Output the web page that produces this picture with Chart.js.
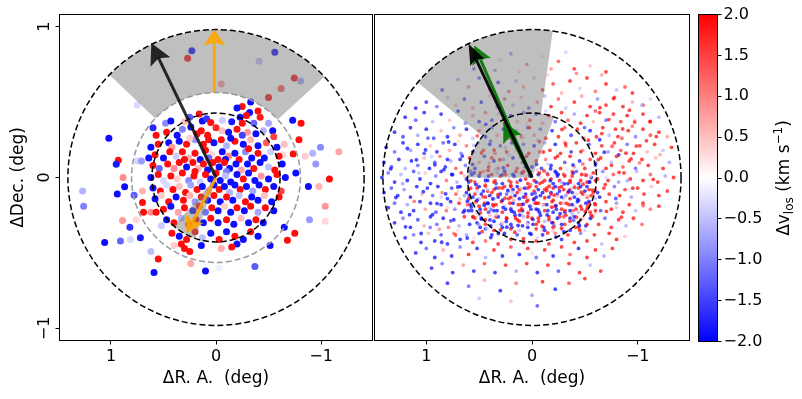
<!DOCTYPE html>
<html>
<head>
<meta charset="utf-8">
<script src="https://cdn.jsdelivr.net/npm/chart.js@4"></script>
<style>
  body { margin: 0; background: #fff; }
  #wrap { position: relative; width: 802px; height: 399px; }
  canvas { position: absolute; top: 0; }
</style>
</head>
<body>
<div id="wrap">
  <canvas id="left" width="376" height="399" style="left:0px"></canvas>
  <canvas id="right" width="322" height="399" style="left:370px"></canvas>
  <canvas id="cbar" width="112" height="399" style="left:690px"></canvas>
</div>
<script>
// tick values
const xTicks = [-1, 0, 1];
const yTicks = [-1, 0, 1];
const cbarTicks = [-2, -1.5, -1, -0.5, 0, 0.5, 1, 1.5, 2];

// [dRA, dDec, dv_los] for the left panel stars
const leftStars = [
  [1.02,.26,-1.9],[.93,.115,1.9],[.95,.088,-1.8],[.885,0,.9],[.87,-.062,-1.9],[.94,-.11,-1.9],[1.27,-.09,-.6],[1.26,-.19,-1.0],
  [1.06,-.43,-1.9],[.91,-.42,-1.2],[.815,-.41,-.3],[.72,-.40,-1.8],[.62,-.49,-.5],[.55,-.54,1.9],[.59,-.63,-1.9],[.24,-.57,.7],
  [.10,-.62,-1.9],[-.03,-.6,-.1],[-.37,-.59,-1.3],[-.515,-.45,-1.9],[-.68,-.415,1.9],[-.75,-.37,1.9],[-.65,-.33,-1.9],[-.89,-.28,-.8],
  [-1.04,-.29,.3],[-1.04,-.19,.8],[-.88,-.06,-1.9],[-.98,-.06,.6],[-1.08,-.01,1.9],[-1.17,.17,.7],[-.995,.2,-.9],[-.92,.16,-.6],
  [-.95,.09,-.8],[-.85,.14,.4],[-.79,.25,1.9],[-.81,.36,1.9],[-.73,.38,-1.9],[-.54,.31,-1.9],[.75,.11,-.3],[.71,.11,-.8],
  [.70,-.09,.6],[.89,-.285,.8],[.82,-.33,-1.6],[.48,.36,-.9],[.43,.375,-1.9],[.75,.48,-.3],
  [.23,.84,-1.9],[.27,.79,1.9],[-.05,.62,.8],[-.56,.83,-1.9],[-.41,.77,-.5],[-.745,.66,1.9],[-.805,.64,-.7],[-.62,.59,1.3],[-.50,.53,1.9],
  [.78,-.117,-1.3],[.70,-.165,1.9],[.76,-.28,.3],[.69,-.23,1.9],[.62,-.23,.9],[.57,-.23,1.9],[-.76,.03,-1.9],[-.735,.155,1.9],[-.635,.15,.3],
  [-.33,.5,-1.9],[-.25,.47,1.9],[-.2,.46,-1.9],[-.40,.44,1.9],[-.32,.43,-1.9],[-.29,.41,1.9],[-.23,.40,-1.9],[-.5,.36,-.7],
  [.13,.375,-1.9],[.09,.39,-1.6],[.05,.365,1.9],[-.06,.38,-.4],[-.15,.37,-1.8],[-.25,.36,1.9],[-.36,.36,-1.2],[.25,.40,-1.3],[.3,.37,.5],[.16,.42,1.9],[-.42,.40,1.8],
  [.57,.28,1.9],[.47,.30,1.9],[.37,.28,-1.9],[.24,.335,-1.9],[.14,.31,1.9],[-.06,.31,.5],[0,.33,1.7],[-.12,.3,-1.9],[-.2,.32,1.9],
  [-.3,.3,.8],[-.38,.29,-1.9],[-.45,.31,-.6],[-.55,.27,1.5],[.18,.29,1.9],[.08,.28,1.9],[.32,.32,-1.0],[-.25,.28,-1.5],[.6,.33,-1.7],
  [.35,.24,-1.9],[.07,.25,1.9],[.55,.22,1.9],[.45,.23,-1.9],[.42,.2,.8],[.28,.22,1.9],[.2,.25,-.8],[.12,.22,1.9],[.02,.23,-1.9],
  [-.05,.25,1.9],[-.1,.21,-.6],[-.18,.24,1.9],[-.26,.22,-1.9],[-.33,.25,.6],[-.4,.21,-1.9],[-.48,.23,1.3],[-.58,.2,-1.9],[-.65,.22,.5],[.62,.2,-1.9],[.25,.26,.4],[-.14,.26,-1.9],
  [.58,.15,1.9],[.5,.13,-1.9],[.44,.17,1.9],[.38,.14,-.4],[.32,.17,1.9],[.26,.13,.6],[.2,.16,1.9],[.15,.12,-1.9],[.1,.18,1.9],
  [.04,.15,.3],[-.02,.12,1.9],[-.06,.17,-1.9],[-.12,.14,.9],[-.18,.16,-1.9],[-.22,.12,1.9],[-.28,.17,-.9],[-.34,.13,-1.9],[-.4,.16,1.9],
  [-.46,.13,-1.9],[-.52,.17,-.4],[-.6,.14,1.9],[.64,.13,-1.9],[.3,.12,1.9],[-.09,.12,-1.9],[.07,.13,-1.2],[-.31,.19,1.9],
  [.6,.08,1.9],[.54,.06,-1.2],[.46,.09,1.9],[.4,.06,.9],[.35,.1,1.9],[.28,.07,-1.9],[.22,.1,1.9],[.17,.06,.5],[.12,.09,1.9],
  [.08,.05,-1.9],[.03,.1,1.9],[-.03,.07,-1.9],[-.08,.1,1.9],[-.13,.06,-1.9],[-.19,.09,-1.9],[-.24,.05,.7],[-.3,.09,-1.9],[-.36,.06,1.9],
  [-.42,.1,-1.9],[-.5,.07,-.5],[-.56,.05,1.9],[-.63,.09,-1.9],[.2,.04,1.9],[-.1,.04,-1.0],
  [.62,0,-1.9],[.55,.02,1.9],[.5,-.02,-.3],[.43,.01,1.9],[.37,-.01,.4],[.32,.03,1.9],[.26,-.02,-.9],[.21,.01,1.9],[.15,-.03,-.4],
  [.1,.02,1.9],[.05,-.01,-1.9],[0,.03,1.9],[-.04,-.02,-1.9],[-.09,.01,-.5],[-.14,-.03,-1.9],[-.2,.02,-1.9],[-.26,-.01,1.9],[-.31,.03,-1.9],
  [-.37,-.02,-1.9],[-.43,.01,.8],[-.5,-.01,-1.9],[-.58,.02,1.9],[-.66,0,-1.9],
  [.6,-.07,-1.9],[.53,-.09,1.9],[.47,-.05,-.3],[.41,-.08,1.9],[.35,-.06,.5],[.29,-.1,1.9],[.24,-.05,-.7],[.18,-.08,1.9],[.13,-.06,-1.9],
  [.07,-.09,.6],[.02,-.05,-1.9],[-.03,-.08,1.9],[-.08,-.06,-1.9],[-.13,-.1,-.6],[-.18,-.05,-1.9],[-.23,-.08,1.9],[-.29,-.06,-1.9],[-.35,-.09,-.7],
  [-.41,-.05,-1.9],[-.47,-.08,1.9],[-.55,-.06,-1.9],[-.62,-.09,1.5],
  [.58,-.14,-1.9],[.52,-.12,.4],[.45,-.16,1.9],[.38,-.13,-1.9],[.31,-.15,1.9],[.25,-.12,.6],[.2,-.16,-.8],[.14,-.13,1.9],[.08,-.15,-1.9],
  [.02,-.12,1.9],[-.04,-.16,-1.9],[-.1,-.13,1.9],[-.16,-.15,-1.9],[-.22,-.12,-.5],[-.28,-.16,1.9],[-.34,-.13,-1.9],[-.4,-.15,-1.9],[-.46,-.12,.5],
  [-.53,-.16,-1.9],[-.6,-.13,1.9],
  [.5,-.21,1.9],[.43,-.19,-1.9],[.36,-.23,.7],[.3,-.2,1.9],[.22,-.22,-1.9],[.16,-.19,1.9],[.1,-.23,-1.1],[.04,-.2,1.9],[-.02,-.22,-1.9],
  [-.08,-.19,.4],[-.14,-.23,-1.9],[-.2,-.2,1.9],[-.27,-.22,-1.9],[-.33,-.19,1.9],[-.4,-.23,-.7],[-.47,-.2,1.9],[-.55,-.22,-1.9],
  [.47,-.28,-1.9],[.4,-.3,1.9],[.33,-.27,-.6],[.26,-.31,1.9],[.19,-.28,1.9],[.12,-.3,-1.9],[.05,-.27,1.9],[-.02,-.3,-1.9],[-.1,-.28,1.9],
  [-.17,-.31,-1.9],[-.24,-.27,.5],[-.31,-.3,-1.9],[-.38,-.28,1.9],[-.45,-.3,-1.9],[.52,-.32,-.4],
  [.42,-.37,1.9],[.35,-.39,-1.9],[.28,-.41,1.9],[.2,-.36,1.9],[.13,-.4,-.5],[.05,-.37,-1.9],[-.03,-.41,1.9],[-.1,-.36,-1.9],[-.18,-.39,1.9],
  [-.26,-.41,-1.9],[-.33,-.36,1.9],[-.4,-.39,-1.9],[.33,-.44,1.9],[.3,-.47,1.9],[.25,-.49,1.9],[.4,-.45,.4],[-.2,-.44,-1.9],[-.15,-.46,1.9],
  [-.05,-.47,.6],[.14,-.45,-1.9]
];

// [dRA, dDec, dv_los] for the right panel: outer halo, dense core, scattered cloud
const rightHalo = [
  [.45,.8,-.6],[.3,.78,.5],[.2,.82,-1],[.05,.75,1.2],[-.1,.8,-.3],[-.25,.77,1.5],[-.4,.72,1.8],[-.55,.74,.6],[.55,.72,-1.4],[.12,.7,.4],
  [-.7,.7,1.9],[.35,.71,-.9],[-.32,.83,-.4],[-.18,.72,.9],
  [.7,.65,-.8],[.6,.6,1.1],[.5,.66,-1.5],[.4,.58,.6],[.32,.63,-1.8],[.22,.57,1.3],[.15,.64,-.7],[.08,.6,.9],[-.02,.66,-.5],[-.1,.58,1.9],
  [-.2,.62,1.6],[-.28,.56,.7],[-.36,.64,1.9],[-.45,.59,-.4],[-.52,.66,1.9],[-.6,.57,1.2],[-.7,.62,1.9],[-.8,.58,-.6],[-.88,.6,1.5],[-.95,.56,1.9],
  [.85,.58,-1.7],[-.15,.68,.4],[-.42,.69,1.1],[-.66,.68,.8],
  [1.0,.5,-1.8],[.9,.47,-1.2],[.8,.53,-.5],[.72,.48,.7],[.64,.52,-1.6],[.56,.46,.9],[.48,.5,-1.9],[.4,.54,.5],[.33,.47,-1.1],[.26,.52,1.4],
  [.18,.48,-.8],[.1,.53,.6],[.03,.46,-1.4],[-.05,.5,1.1],[-.12,.54,-.6],[-.18,.47,1.9],[-.25,.52,1.3],[-.32,.46,-.5],[-.4,.5,1.9],[-.47,.54,.8],
  [-.55,.47,1.9],[-.62,.52,-.9],[-.7,.48,1.9],[-.78,.53,1.6],[-.86,.47,1.9],[-.95,.5,.7],[-1.05,.48,1.9],[-1.12,.52,-.4],[1.1,.46,-1.9],
  [1.2,.4,-1.9],[1.1,.38,-1.4],[1.02,.43,-1.9],[.94,.37,-.6],[.86,.42,-1.9],[.78,.38,.5],[.7,.44,-1.8],[.63,.36,-1],[.56,.41,.8],[.5,.37,-1.9],
  [.44,.43,1.2],[.38,.38,-1.6],[.32,.42,-.4],[.26,.36,1.5],[.2,.41,-1.9],[.14,.37,.7],[.08,.43,-1.2],[.02,.38,1.6],[-.04,.42,-1.7],[-.1,.36,.9],
  [-.16,.41,1.9],[-.22,.37,-1.3],[-.28,.43,1.9],[-.34,.38,1.4],[-.4,.42,-.8],[-.46,.36,1.9],[-.52,.41,1.9],[-.58,.37,.6],[-.64,.43,1.9],[-.7,.38,-1.2],
  [-.77,.42,1.9],[-.84,.37,1.7],[-.9,.41,1.9],[-.97,.38,.5],[-1.05,.42,1.9],[-1.12,.37,1.8],[-1.2,.4,-.7],[.05,.36,.3],[-.13,.44,-.4],[-.6,.44,1.5],
  [1.3,.3,-1.9],[1.22,.27,-1.6],[1.15,.33,-1.9],[1.08,.28,-.8],[1.0,.32,-1.9],[.93,.26,-1.5],[.86,.31,.6],[.8,.27,-1.9],[.74,.33,-1.1],[.68,.28,.9],
  [.62,.32,-1.9],[.56,.26,-.5],[.5,.31,1.3],[.44,.27,-1.9],[.38,.33,-1.4],[.33,.28,.8],[.27,.32,-1.9],[.21,.26,1.1],[.15,.31,-.7],[.1,.27,1.5],
  [.04,.33,-1.6],[-.02,.28,.9],[-.08,.32,-1.2],[-.13,.26,1.9],[-.19,.31,-1.8],[-.25,.27,1.9],[-.31,.33,1.5],[-.37,.28,-1.6],[-.43,.32,1.9],[-.49,.26,1.2],
  [-.55,.31,-1.9],[-.61,.27,1.9],[-.67,.33,1.9],[-.73,.28,-.6],[-.79,.32,1.9],[-.85,.26,1.4],[-.91,.31,1.9],[-.98,.27,-1.1],[-1.05,.32,1.9],[-1.12,.28,1.6],
  [-1.2,.3,1.9],[-1.28,.27,.8],[.47,.34,.4],[-.05,.25,-.4],[-.64,.25,-1.9],[-.95,.34,1.2],
  [1.38,.2,-1.9],[1.3,.17,-1.3],[1.22,.23,-1.9],[1.15,.18,-.9],[1.08,.22,-1.9],[1.02,.16,-1.6],[.96,.21,.5],[.9,.17,-1.9],[.84,.23,-1.4],[.78,.18,.8],
  [.73,.22,-1.9],[.67,.16,-1.1],[.62,.21,1.2],[.56,.17,-1.9],[.51,.23,-.6],[.46,.18,1.7],[.4,.22,-1.9],[.35,.16,1.1],[.3,.21,-1.5],[.24,.17,1.9],
  [.19,.23,-1.9],[.14,.18,.6],[.08,.22,-1.3],[.03,.16,1.9],[-.02,.21,-1.9],[-.07,.17,1.4],[-.12,.23,-.8],[-.17,.18,1.9],[-.22,.22,-1.9],[-.27,.16,1.9],
  [-.32,.21,1.6],[-.37,.17,-1.7],[-.42,.23,1.9],[-.48,.18,.9],[-.54,.22,-1.4],[-.6,.16,1.9],[-.66,.21,1.9],[-.72,.17,-.9],[-.78,.23,1.9],[-.84,.18,1.5],
  [-.9,.22,-1.2],[-.96,.16,1.9],[-1.02,.21,1.9],[-1.09,.17,.7],[-1.16,.22,1.9],[-1.24,.18,-.5],[-1.32,.2,1.9],[.7,.24,.3],[.22,.15,-.5],[-.3,.24,.4],[-.82,.15,-1.9],
  [1.4,.1,-1.9],[1.33,.07,-1.6],[1.26,.12,-1.9],[1.2,.06,-.7],[1.14,.11,-1.9],[1.08,.08,-1.3],[1.02,.13,.6],[.97,.06,-1.9],[.92,.1,-1.5],[.87,.14,1.1],
  [.82,.07,-1.9],[.77,.11,-.8],[.72,.06,1.4],[.68,.12,-1.9],[.63,.08,-1.2],[.59,.13,1.9],[.54,.06,-1.9],[.5,.1,.8],[.45,.14,-1.6],[.41,.07,1.9],
  [.36,.11,-1.9],[.32,.06,1.3],[.27,.12,-.9],[.23,.08,1.9],[.18,.13,-1.9],[.14,.06,1.6],[.09,.1,-1.4],[.05,.14,1.9],[0,.07,-1.9],[-.04,.11,1.9],
  [-.09,.06,-1.7],[-.13,.12,1.2],[-.18,.08,-1.9],[-.22,.13,1.9],[-.27,.06,1.9],[-.31,.1,-1.5],[-.36,.14,1.9],[-.4,.07,.9],[-.45,.11,-1.9],[-.5,.06,1.9],
  [-.55,.12,1.7],[-.6,.08,-1.1],[-.65,.13,1.9],[-.7,.06,1.9],[-.75,.1,-.6],[-.8,.14,1.9],[-.86,.07,1.5],[-.92,.11,1.9],[-.98,.06,-1.3],[-1.04,.12,1.9],
  [-1.1,.08,1.9],[-1.17,.13,.6],[-1.24,.06,1.9],[-1.3,.1,-.8],[.95,.14,-.4],[.6,.05,.3],[.25,.05,-.3],[-.05,.05,.5],[-.33,.05,-.2],[-.62,.05,.4],
  [.8,.12,-1.9],[.38,.13,1.8],[-.15,.09,-.4],[-.48,.09,1.3],
  [1.42,0,-1.9],[1.36,.03,-1.2],[1.3,-.03,-1.9],[1.24,.02,-.6],[1.18,-.02,-1.9],[1.12,.04,-1.5],[1.06,-.01,-1.9],[1.01,.03,.5],[.96,-.04,-1.9],[.91,.01,-1.1],
  [.86,.04,-1.9],[.81,-.02,1.2],[.76,.02,-1.9],[.71,-.03,-.7],[.67,.03,1.6],[.62,-.01,-1.9],[.58,.04,-1.3],[.54,-.03,1.9],[.5,.01,-1.9],[.46,.04,.9],
  [.42,-.02,-1.9],[.38,.02,1.9],[.34,-.04,-1.6],[.3,.01,1.9],[.26,.04,-1.9],[.22,-.02,1.4],[.18,.02,-1.9],[.14,-.03,1.9],[.1,.03,-1.2],[.06,-.01,1.9],
  [.02,.04,-1.9],[-.02,-.02,1.9],[-.06,.02,-1.9],[-.1,-.03,1.9],[-.14,.03,-.8],[-.18,-.01,1.9],[-.22,.04,-1.9],[-.26,-.02,1.9],[-.3,.02,1.6],[-.34,-.04,-1.9],
  [-.38,.01,1.9],[-.42,.04,-1.4],[-.46,-.02,1.9],[-.5,.02,.8],[-.54,-.03,-1.9],[-.58,.03,1.9],[-.62,-.01,1.9],[-.67,.04,-1.1],[-.72,-.02,1.9],[-.77,.02,1.5],
  [-.82,-.03,-.9],[-.87,.03,1.9],[-.93,-.01,1.9],[-.99,.04,-.6],[-1.05,-.02,1.9],[-1.12,.02,1.4],[-1.19,-.03,1.9],[-1.26,.01,-.7],[-1.34,0,1.9],[.9,-.05,.3],
  [.44,0,-.4],[.16,0,.4],[-.08,0,-.3],[-.4,-.05,.4],[-.7,0,-.3],[.64,.01,.5],[-.24,.01,-1.9],[.08,.04,1.9],[-.56,0,-1.9],
  [1.4,-.1,-1.9],[1.33,-.07,-1.5],[1.27,-.12,-1.9],[1.21,-.08,-.9],[1.15,-.13,-1.9],[1.09,-.06,-1.9],[1.04,-.11,.7],[.99,-.07,-1.9],[.94,-.12,-1.3],[.89,-.06,-1.9],
  [.85,-.1,1.1],[.8,-.14,-1.9],[.76,-.07,-1.6],[.72,-.11,1.5],[.68,-.06,-1.9],[.64,-.12,-.8],[.6,-.08,1.9],[.56,-.13,-1.9],[.52,-.07,1.9],[.48,-.11,-1.9],
  [.44,-.06,1.2],[.4,-.12,-1.9],[.36,-.08,1.9],[.32,-.13,-1.9],[.28,-.07,1.9],[.24,-.11,-1.4],[.2,-.06,1.9],[.16,-.12,-1.9],[.12,-.08,1.9],[.08,-.13,-1.9],
  [.04,-.07,1.9],[0,-.11,-1.9],[-.04,-.06,1.9],[-.08,-.12,-1.9],[-.12,-.08,1.9],[-.16,-.13,-1.9],[-.2,-.07,1.9],[-.24,-.11,-1.9],[-.28,-.06,1.9],[-.32,-.12,-.9],
  [-.36,-.08,1.9],[-.4,-.13,-1.9],[-.44,-.07,1.9],[-.48,-.11,1.9],[-.52,-.06,-1.9],[-.56,-.12,1.9],[-.6,-.08,1.3],[-.64,-.13,-1.9],[-.68,-.07,1.9],[-.73,-.11,1.9],
  [-.78,-.06,-1.2],[-.83,-.12,1.9],[-.88,-.08,1.7],[-.94,-.13,-.8],[-1.0,-.07,1.9],[-1.06,-.11,1.9],[-1.13,-.06,.6],[-1.2,-.12,1.9],[-1.28,-.09,1.9],[.7,-.09,.4],
  [.5,-.14,-.5],[.3,-.1,.3],[.1,-.1,-.3],[-.1,-.1,.5],[-.3,-.14,-.4],[-.5,-.09,.3],[.86,-.13,-.4],[.14,-.06,-1.9],[-.02,-.14,1.9],[-.18,-.1,-1.9],
  [.42,-.09,1.9],[-.38,-.1,-1.9],[.22,-.14,1.9],[-.62,-.1,-1.9],
  [1.36,-.2,-1.9],[1.3,-.17,-1.4],[1.24,-.23,-1.9],[1.18,-.18,-.8],[1.12,-.22,-1.9],[1.06,-.16,-1.9],[1.01,-.21,.9],[.96,-.17,-1.9],[.91,-.23,-1.5],[.86,-.18,-1.9],
  [.81,-.22,1.3],[.77,-.16,-1.9],[.73,-.21,-1.1],[.69,-.17,1.9],[.65,-.23,-1.9],[.61,-.18,1.5],[.57,-.22,-1.9],[.53,-.16,1.9],[.49,-.21,-1.9],[.45,-.17,1.9],
  [.41,-.23,-1.6],[.37,-.18,1.9],[.33,-.22,-1.9],[.29,-.16,1.9],[.25,-.21,-1.9],[.21,-.17,1.9],[.17,-.23,-1.9],[.13,-.18,1.9],[.09,-.22,-1.9],[.05,-.16,1.9],
  [.01,-.21,-1.9],[-.03,-.17,1.9],[-.07,-.23,-1.9],[-.11,-.18,1.9],[-.15,-.22,-1.9],[-.19,-.16,1.9],[-.23,-.21,-1.9],[-.27,-.17,1.9],[-.31,-.23,-1.9],[-.35,-.18,1.9],
  [-.39,-.22,1.4],[-.43,-.16,-1.9],[-.47,-.21,1.9],[-.51,-.17,-1.9],[-.55,-.23,1.9],[-.6,-.18,1.9],[-.65,-.22,-1.5],[-.7,-.16,1.9],[-.75,-.21,1.9],[-.8,-.17,-.9],
  [-.86,-.23,1.9],[-.92,-.18,1.9],[-.98,-.22,-.6],[-1.05,-.17,1.9],[-1.12,-.21,1.2],[-1.2,-.19,1.9],[.8,-.2,.4],[.4,-.2,-.4],[0,-.19,.3],[-.4,-.19,-.3],
  [-.8,-.2,.5],[.6,-.15,-.3],[.2,-.2,.5],[-.2,-.2,-.4],[-.6,-.24,.3],
  [1.3,-.3,-1.9],[1.22,-.27,-1.1],[1.15,-.33,-1.9],[1.08,-.28,-1.6],[1.02,-.32,.7],[.96,-.26,-1.9],[.9,-.31,-1.3],[.84,-.27,-1.9],[.79,-.33,1.2],[.74,-.28,-1.9],
  [.69,-.32,-.7],[.64,-.26,1.9],[.59,-.31,-1.9],[.54,-.27,1.6],[.49,-.33,-1.9],[.44,-.28,1.9],[.39,-.32,-1.9],[.34,-.26,1.9],[.29,-.31,-1.4],[.24,-.27,1.9],
  [.19,-.33,-1.9],[.14,-.28,1.9],[.09,-.32,-1.9],[.04,-.26,1.9],[-.01,-.31,-1.9],[-.06,-.27,1.9],[-.11,-.33,-1.9],[-.16,-.28,1.9],[-.21,-.32,-1.2],[-.26,-.26,1.9],
  [-.31,-.31,1.9],[-.36,-.27,-1.9],[-.41,-.33,1.9],[-.46,-.28,1.5],[-.51,-.32,-1.9],[-.57,-.26,1.9],[-.63,-.31,1.9],[-.69,-.27,-1.3],[-.75,-.33,1.9],[-.82,-.28,1.9],
  [-.89,-.32,-.7],[-.96,-.27,1.9],[-1.04,-.31,1.3],[.7,-.35,.3],[.3,-.35,-.3],[-.1,-.35,.4],[-.5,-.35,-.4],[.5,-.25,-.5],[.1,-.25,.5],[-.3,-.25,-.4],
  [1.2,-.4,-1.9],[1.12,-.38,-1.2],[1.05,-.43,-1.9],[.98,-.37,.6],[.92,-.42,-1.9],[.86,-.38,-1.5],[.8,-.44,-1.9],[.74,-.37,1.1],[.68,-.41,-1.9],[.62,-.38,-.8],
  [.56,-.43,1.9],[.5,-.37,-1.9],[.44,-.42,1.4],[.38,-.38,-1.9],[.32,-.44,1.9],[.26,-.37,-1.9],[.2,-.41,1.9],[.14,-.38,-1.6],[.08,-.43,1.9],[.02,-.37,-1.9],
  [-.04,-.42,1.9],[-.1,-.38,-1.9],[-.16,-.44,1.9],[-.22,-.37,1.2],[-.28,-.41,-1.9],[-.34,-.38,1.9],[-.4,-.43,1.9],[-.46,-.37,-1.1],[-.52,-.42,1.9],[-.59,-.38,1.9],
  [-.66,-.44,-.6],[-.73,-.37,1.9],[-.8,-.41,1.9],[-.88,-.39,.5],[.55,-.4,.3],[-.05,-.4,-.3],
  [1.1,-.5,-1.9],[1.0,-.47,-1.4],[.92,-.53,-1.9],[.84,-.48,.8],[.76,-.52,-1.9],[.68,-.46,-1.1],[.6,-.51,1.9],[.52,-.47,-1.9],[.44,-.53,-.7],[.36,-.48,1.9],
  [.28,-.52,-1.9],[.2,-.46,1.6],[.12,-.51,-1.9],[.04,-.47,1.9],[-.04,-.53,-1.3],[-.12,-.48,1.9],[-.2,-.52,-1.9],[-.28,-.46,1.9],[-.36,-.51,1.4],[-.44,-.47,-1.9],
  [-.52,-.53,1.9],[-.6,-.48,1.9],[-.68,-.52,-.8],[-.76,-.47,1.9],[0,-.5,.3],
  [.95,-.6,-1.9],[.85,-.57,-1.2],[.75,-.63,-1.9],[.65,-.58,.9],[.55,-.62,-1.9],[.45,-.57,1.5],[.35,-.63,-1.9],[.25,-.58,1.9],[.15,-.62,-.8],[.05,-.57,1.9],
  [-.05,-.63,-1.9],[-.15,-.58,1.9],[-.25,-.62,-1.5],[-.35,-.57,1.9],[-.45,-.63,1.9],[-.55,-.58,-.6],[-.65,-.62,1.9],
  [.8,-.7,-1.9],[.6,-.72,-1.3],[.45,-.68,.7],[.3,-.75,-1.9],[.15,-.7,1.2],[0,-.78,-.9],[-.1,-.69,1.9],[-.22,-.74,-1.9],[-.35,-.7,1.6],[-.5,-.67,1.9],
  [.5,-.8,-.5],[-.05,-.85,-1.5],[.2,-.82,.6]
];
const rightCore = [
  [.57,.02,-1.9],[.49,.03,1.9],[.41,.01,-1.9],[.33,.03,-.6],[.25,.02,1.9],[.17,.01,-1.9],[.09,.03,1.9],[.01,.01,-1.9],[-.07,.03,1.9],[-.15,.02,1.9],
  [-.23,.03,-1.9],[-.31,.01,1.9],[-.39,.03,-1.9],[-.47,.02,1.9],[-.55,.01,.5],
  [.6,-.03,-1.9],[.52,-.04,.6],[.44,-.02,-1.9],[.36,-.03,1.9],[.28,-.04,-1.9],[.2,-.03,1.9],[.12,-.02,-.5],[.04,-.04,1.9],[-.04,-.03,-1.9],[-.12,-.02,1.9],
  [-.2,-.04,-1.9],[-.28,-.03,-.7],[-.36,-.02,1.9],[-.44,-.04,-1.9],[-.52,-.03,1.9],[-.6,-.02,1.9],
  [.58,-.07,1.9],[.5,-.06,-1.9],[.42,-.08,-.5],[.34,-.07,-1.9],[.26,-.06,1.9],[.18,-.08,-1.9],[.1,-.07,.6],[.02,-.06,1.9],[-.06,-.08,-1.9],[-.14,-.07,1.9],
  [-.22,-.06,-1.9],[-.3,-.08,1.9],[-.38,-.07,-.4],[-.46,-.06,-1.9],[-.54,-.08,1.9],
  [.62,-.1,-1.9],[.54,-.11,1.9],[.46,-.09,-1.9],[.38,-.1,1.9],[.3,-.11,-1.9],[.22,-.09,-.6],[.14,-.1,1.9],[.06,-.11,-1.9],[-.02,-.09,1.9],[-.1,-.1,-1.9],
  [-.18,-.11,1.9],[-.26,-.09,-1.9],[-.34,-.1,1.9],[-.42,-.11,.5],[-.5,-.09,-1.9],[-.58,-.1,1.9],
  [.6,-.14,1.9],[.52,-.15,-1.9],[.44,-.13,1.9],[.36,-.14,-.7],[.28,-.15,-1.9],[.2,-.13,1.9],[.12,-.14,-1.9],[.04,-.15,1.9],[-.04,-.13,-1.9],[-.12,-.14,.6],
  [-.2,-.15,1.9],[-.28,-.13,-1.9],[-.36,-.14,1.9],[-.44,-.15,-1.9],[-.52,-.13,1.9],[-.6,-.14,-.5],
  [.58,-.18,-1.9],[.5,-.19,1.9],[.42,-.17,-1.9],[.34,-.18,1.9],[.26,-.19,-.5],[.18,-.17,-1.9],[.1,-.18,1.9],[.02,-.19,-1.9],[-.06,-.17,1.9],[-.14,-.18,-1.9],
  [-.22,-.19,1.9],[-.3,-.17,.7],[-.38,-.18,-1.9],[-.46,-.19,1.9],[-.54,-.17,1.9],
  [.6,-.22,-1.9],[.52,-.23,-.6],[.44,-.21,1.9],[.36,-.22,-1.9],[.28,-.23,1.9],[.2,-.21,-1.9],[.12,-.22,1.9],[.04,-.23,.5],[-.04,-.21,-1.9],[-.12,-.22,1.9],
  [-.2,-.23,-1.9],[-.28,-.21,1.9],[-.36,-.22,-1.9],[-.44,-.23,-.5],[-.52,-.21,1.9],[-.6,-.22,1.9],
  [.56,-.26,1.9],[.48,-.27,-1.9],[.4,-.25,.6],[.32,-.26,-1.9],[.24,-.27,1.9],[.16,-.25,-1.9],[.08,-.26,-.6],[0,-.27,1.9],[-.08,-.25,-1.9],[-.16,-.26,1.9],
  [-.24,-.27,-1.9],[-.32,-.25,1.9],[-.4,-.26,-1.9],[-.48,-.27,.6],[-.56,-.25,1.9],
  [.52,-.3,-1.9],[.44,-.31,1.9],[.36,-.29,-1.9],[.28,-.3,.5],[.2,-.31,-1.9],[.12,-.29,1.9],[.04,-.3,-1.9],[-.04,-.31,1.9],[-.12,-.29,-.6],[-.2,-.3,1.9],
  [-.28,-.31,-1.9],[-.36,-.29,1.9],[-.44,-.3,-1.9],[-.52,-.31,1.9],
  [.44,-.34,-1.9],[.36,-.35,1.9],[.28,-.33,-1.9],[.2,-.34,1.9],[.12,-.35,-.5],[.04,-.33,-1.9],[-.04,-.34,1.9],[-.12,-.35,-1.9],[-.2,-.33,1.9],[-.28,-.34,.6],
  [-.36,-.35,-1.9],[-.44,-.33,1.9]
];
const rightCloud = [
  [.531,-.047,-1.9],[.463,-.128,1.7],[.387,-.213,-1.2],[.312,-.069,1.9],[.243,-.291,-1.9],[.176,-.152,.8],[.108,-.017,-1.9],[.037,-.236,1.9],[-.029,-.104,-1.5],[-.094,-.322,1.9],
  [-.163,-.058,1.9],[-.227,-.187,-1.9],[-.298,-.261,1.4],[-.362,-.031,1.9],[-.431,-.145,-1.7],[-.503,-.226,1.9],[-.571,-.083,1.9],[.574,-.196,-1.9],[.506,-.312,-.9],[.442,-.051,1.9],
  [.371,-.142,-1.9],[.297,-.347,1.9],[.229,-.086,-1.9],[.157,-.268,1.9],[.083,-.177,-1.9],[.014,-.048,1.2],[-.057,-.214,-1.9],[-.121,-.133,1.9],[-.189,-.299,-1.9],[-.256,-.068,1.9],
  [-.327,-.171,1.9],[-.394,-.284,-1.4],[-.466,-.097,1.9],[-.538,-.158,-1.9],[.593,-.119,-1.6],[.488,-.234,1.9],[.416,-.172,-1.9],[.349,-.022,1.9],[.273,-.199,-1.9],[.201,-.053,1.9],
  [.132,-.318,-1.9],[.061,-.129,1.9],[-.008,-.277,-1.9],[-.074,-.039,1.9],[-.143,-.248,-1.9],[-.211,-.117,1.9],[-.279,-.336,1.9],[-.348,-.091,-1.9],[-.417,-.209,1.9],[-.483,-.044,1.9],
  [-.552,-.271,-1.9],[.556,-.262,1.9],[.398,-.281,-1.9],[.255,-.137,1.9],[.116,-.249,-1.9],[-.041,-.171,1.9],[-.173,-.021,-1.9],[-.312,-.219,1.9],[-.449,-.318,-1.9],[-.593,-.174,1.9],
  [.519,-.093,-.4],[.336,-.247,.5],[.187,-.101,-.5],[.047,-.306,.4],[-.106,-.183,-.3],[-.244,-.124,.6],[-.381,-.244,-.6],[-.517,-.121,.4],[.428,-.339,-.5],[-.198,-.352,.5],
  [.579,-.022,1.9],[.451,-.184,-1.9],[.322,-.114,1.9],[.193,-.224,-1.9],[.069,-.071,-1.9],[-.062,-.292,1.9],[-.186,-.196,1.9],[-.305,-.042,-1.9],[-.421,-.262,1.9],[-.546,-.029,-1.9],
  [.611,-.157,-1.9],[.477,-.276,-1.9],[.364,-.188,1.9],[.238,-.329,-1.9],[.098,-.208,1.9],[-.016,-.147,-1.9],[-.139,-.087,1.9],[-.266,-.239,-1.9],[-.404,-.066,1.9],[-.527,-.192,1.9],
  [.547,.031,-1.9],[.416,.047,1.9],[.283,.018,-1.9],[.151,.039,1.9],[.022,.012,-1.9],[-.113,.044,1.9],[-.248,.021,-1.9],[-.381,.037,1.9],[-.512,.015,1.9],[.35,.052,-.4],
  [.472,-.359,1.9],[.318,-.371,-1.9],[.163,-.362,1.9],[.009,-.376,-1.9],[-.148,-.367,1.9],[-.301,-.358,-1.9],[-.452,-.349,1.9],[.39,-.398,-1.9],[.081,-.405,1.9],[-.226,-.395,-1.9],
  [.563,.087,-1.9],[.478,.163,1.9],[.392,.241,-1.3],[.305,.118,1.9],[.227,.309,-1.9],[.141,.196,.9],[.062,.071,-1.9],[.517,.276,1.5],[.437,.352,-1.9],[.358,.182,1.9],
  [.271,.064,-1.9],[.189,.257,1.9],[.103,.138,-1.7],[.023,.331,1.9],[.548,.214,-.6],[.404,.096,.7],[.251,.197,-.5],[.082,.264,.5],[-.042,.087,-1.9],[-.107,.169,1.9],
  [-.176,.058,-1.9],[-.243,.142,1.9],[-.317,.226,1.9],[-.388,.083,-1.9],[-.462,.171,1.9],[-.533,.247,1.9],[-.601,.094,-1.9],[-.071,.238,1.9],[-.284,.318,1.9],[-.497,.331,-1.4],
  [-.627,.118,1.9],[-.693,-.047,1.9],[-.758,.207,1.6],[-.824,.034,1.9],[-.889,.161,1.9],[-.953,-.071,1.9],[-1.018,.097,1.2],[-1.083,.243,1.9],[-1.147,-.013,1.9],[-1.212,.151,.8],
  [-.661,.291,1.9],[-.727,.384,1.9],[-.793,-.139,-1.6],[-.858,.322,1.9],[-.922,.446,1.9],[-.987,.208,1.9],[-1.052,-.187,1.4],[-1.116,.371,1.9],[-.704,-.224,1.9],[-.846,-.263,1.9],
  [-.643,.462,1.9],[-.771,.523,1.9],[-.902,-.021,-.8],[-.971,.367,1.9],[-1.037,.479,-.5],[-.684,.168,-1.9],[-.813,.271,1.9],[-.937,.123,1.9],[-1.176,.271,1.9],[-.752,.081,1.9],
  [.637,-.218,-1.9],[.702,-.063,-1.9],[.768,-.287,-1.6],[.833,.052,-1.9],[.898,-.173,-1.9],[.963,-.331,-1.2],[1.028,-.094,-1.9],[1.093,.117,-1.9],[1.158,-.246,-1.9],[1.223,-.041,-.8],
  [.659,.142,-1.9],[.724,-.381,1.7],[.789,.236,-1.9],[.854,-.429,-1.9],[.919,.084,-1.9],[.984,.261,-1.5],[1.049,-.371,-1.9],[1.114,-.158,1.3],[1.179,.192,-1.9],[1.288,-.133,-1.9],
  [.682,-.142,.6],[.817,-.108,-1.9],[.941,-.246,-1.9],[1.071,.031,-.5],[1.197,-.327,-1.9],[.751,.019,-1.9],[.877,-.343,.9],[1.007,.183,-1.9],[1.337,.057,-1.9],[.613,-.401,-1.9]
];

// annotation geometry in data units
const outerRing = [1.41, 0.98];
const innerRing = [0.61, 0.427];
const grayRing = [0.804, 0.563];

const FONT = 'DejaVu Sans';

const decor = {
  left: {
    wedges: [
      { inner: grayRing, outer: outerRing, from: -136, to: -43 },
      { inner: null, outer: innerRing, from: 109, to: 131 }
    ],
    rings: [
      { size: grayRing, color: '#999' },
      { size: innerRing, color: '#000' },
      { size: outerRing, color: '#000' }
    ],
    arrows: [
      { from: [0.016, 0.567], to: [0.016, 0.98], color: 'rgba(255,165,0,0.9)', lw: 3, hl: 16, hw: 22 },
      { from: [0, 0], to: [0.28, -0.37], color: 'rgba(255,165,0,0.9)', lw: 3, hl: 17, hw: 20 },
      { from: [0, 0], to: [0.616, 0.891], color: 'rgba(20,20,20,0.9)', lw: 3, hl: 21, hw: 22 }
    ]
  },
  right: {
    wedges: [
      { inner: null, outer: innerRing, from: -180, to: -70 },
      { inner: null, outer: outerRing, from: -140, to: -82 }
    ],
    rings: [
      { size: innerRing, color: '#000' },
      { size: outerRing, color: '#000' }
    ],
    arrows: [
      { from: [0, 0], to: [0.545, 0.875], color: 'rgba(0,120,0,0.9)', lw: 3, hl: 18, hw: 20 },
      { from: [0, 0], to: [0.27, 0.37], color: 'rgba(0,120,0,0.9)', lw: 3, hl: 20, hw: 21 },
      { from: [0, 0], to: [0.6, 0.887], color: 'rgba(0,0,0,0.92)', lw: 3, hl: 21, hw: 16 }
    ]
  }
};

function fmt(v) { return v < 0 ? '\u2212' + Math.abs(v) : String(v); }

function bwr(v, a) {
  const t = Math.max(0, Math.min(1, (v + 2) / 4));
  let r, g, b;
  if (t < 0.5) { r = g = Math.round(510 * t); b = 255; }
  else { r = 255; g = b = Math.round(510 * (1 - t)); }
  return `rgba(${r},${g},${b},${a})`;
}

function ringPx(chart, ring) {
  const { x, y } = chart.scales;
  return [Math.abs(x.getPixelForValue(ring[0]) - x.getPixelForValue(0)),
          Math.abs(y.getPixelForValue(ring[1]) - y.getPixelForValue(0))];
}

function drawArrow(ctx, x0, y0, x1, y1, s) {
  const ang = Math.atan2(y1 - y0, x1 - x0);
  const c = Math.cos(ang), sn = Math.sin(ang);
  const bx = x1 - s.hl * c, by = y1 - s.hl * sn;
  ctx.strokeStyle = s.color;
  ctx.fillStyle = s.color;
  ctx.lineWidth = s.lw;
  ctx.beginPath();
  ctx.moveTo(x0, y0);
  ctx.lineTo(bx + 0.25 * s.hl * c, by + 0.25 * s.hl * sn);
  ctx.stroke();
  ctx.beginPath();
  ctx.moveTo(x1, y1);
  ctx.lineTo(bx - sn * s.hw / 2, by + c * s.hw / 2);
  ctx.lineTo(bx + 0.2 * s.hl * c, by + 0.2 * s.hl * sn);
  ctx.lineTo(bx + sn * s.hw / 2, by - c * s.hw / 2);
  ctx.closePath();
  ctx.fill();
}

const overlay = {
  id: 'overlay',
  afterDatasetsDraw(chart) {
    const d = decor[chart.canvas.id];
    if (!d) return;
    const { ctx, chartArea: a, scales: { x, y } } = chart;
    const cx = x.getPixelForValue(0), cy = y.getPixelForValue(0);
    ctx.save();
    ctx.beginPath();
    ctx.rect(a.left, a.top, a.right - a.left, a.bottom - a.top);
    ctx.clip();
    // shaded wedges
    ctx.beginPath();
    d.wedges.forEach(w => {
      const a0 = w.from * Math.PI / 180, a1 = w.to * Math.PI / 180;
      const [ox, oy] = ringPx(chart, w.outer);
      if (w.inner) {
        const [ix, iy] = ringPx(chart, w.inner);
        ctx.moveTo(cx + ix * Math.cos(a0), cy + iy * Math.sin(a0));
        ctx.ellipse(cx, cy, ox, oy, 0, a0, a1);
        ctx.ellipse(cx, cy, ix, iy, 0, a1, a0, true);
      } else {
        ctx.moveTo(cx, cy);
        ctx.ellipse(cx, cy, ox, oy, 0, a0, a1);
      }
      ctx.closePath();
    });
    ctx.fillStyle = 'rgba(128,128,128,0.5)';
    ctx.fill();
    // dashed rings
    ctx.setLineDash([6, 3]);
    ctx.lineWidth = 1.5;
    d.rings.forEach(r => {
      const [rx, ry] = ringPx(chart, r.size);
      ctx.beginPath();
      ctx.ellipse(cx, cy, rx, ry, 0, 0, Math.PI * 2);
      ctx.strokeStyle = r.color;
      ctx.stroke();
    });
    ctx.setLineDash([]);
    // arrows
    d.arrows.forEach(ar => drawArrow(ctx,
      x.getPixelForValue(ar.from[0]), y.getPixelForValue(ar.from[1]),
      x.getPixelForValue(ar.to[0]), y.getPixelForValue(ar.to[1]), ar));
    ctx.restore();
    // frame
    ctx.save();
    ctx.strokeStyle = '#000';
    ctx.lineWidth = 1;
    ctx.strokeRect(a.left, a.top, a.right - a.left, a.bottom - a.top);
    // rotated y tick labels (left panel only)
    if (chart.canvas.id === 'left') {
      ctx.fillStyle = '#000';
      ctx.font = `16px "${FONT}"`;
      ctx.textAlign = 'center';
      ctx.textBaseline = 'alphabetic';
      yTicks.forEach(v => {
        ctx.save();
        ctx.translate(49, y.getPixelForValue(v));
        ctx.rotate(-Math.PI / 2);
        ctx.fillText(fmt(v), 0, 0);
        ctx.restore();
      });
    }
    ctx.restore();
  }
};

function xAxis() {
  return {
    type: 'linear', position: 'bottom', reverse: true, min: -1.49, max: 1.49,
    afterBuildTicks: s => { s.ticks = xTicks.map(v => ({ value: v })); },
    afterFit: s => { s.height = 58.5; },
    ticks: { font: { family: FONT, size: 16 }, color: '#000', padding: 3, maxRotation: 0, autoSkip: false, callback: v => fmt(v) },
    grid: { drawOnChartArea: false, drawTicks: true, tickLength: 4, color: '#000', lineWidth: 1 },
    border: { display: false },
    title: { display: true, text: 'ΔR. A.  (deg)', font: { family: FONT, size: 17 }, color: '#000', padding: { top: 0, bottom: 10 } }
  };
}

function panel(id, stars, radius, alpha, yAxis, padding) {
  return new Chart(document.getElementById(id), {
    type: 'scatter',
    data: {
      datasets: [{
        data: stars.map(p => ({ x: p[0], y: p[1] })),
        backgroundColor: stars.map(p => bwr(p[2], alpha)),
        pointRadius: radius, pointHoverRadius: radius, borderWidth: 0
      }]
    },
    options: {
      responsive: false, animation: false, devicePixelRatio: 1, events: [],
      layout: { padding },
      plugins: { legend: { display: false }, tooltip: { enabled: false } },
      scales: { x: xAxis(), y: yAxis }
    },
    plugins: [overlay]
  });
}

panel('left', leftStars, 3.5, 1, {
  type: 'linear', position: 'left', min: -1.08, max: 1.08,
  afterBuildTicks: s => { s.ticks = yTicks.map(v => ({ value: v })); },
  afterFit: s => { s.width = 59.5; },
  ticks: { display: false },
  grid: { drawOnChartArea: false, drawTicks: true, tickLength: 4, color: '#000', lineWidth: 1 },
  border: { display: false },
  title: { display: true, text: 'ΔDec. (deg)', font: { family: FONT, size: 17 }, color: '#000', padding: { top: 8, bottom: 0 } }
}, { left: 0, top: 14.5, right: 1.5, bottom: 0 });

panel('right', rightHalo.concat(rightCore, rightCloud), 1.9, 0.75, {
  type: 'linear', display: false, min: -1.08, max: 1.08
}, { left: 4.5, top: 14.5, right: 2.5, bottom: 0 });

// colorbar
const colorbar = {
  id: 'colorbar',
  beforeDatasetsDraw(chart) {
    const { ctx, chartArea: a } = chart;
    const g = ctx.createLinearGradient(0, a.top, 0, a.bottom);
    g.addColorStop(0, bwr(2, 1));
    g.addColorStop(0.5, bwr(0, 1));
    g.addColorStop(1, bwr(-2, 1));
    ctx.save();
    ctx.fillStyle = g;
    ctx.fillRect(a.left, a.top, a.right - a.left, a.bottom - a.top);
    ctx.strokeStyle = '#000';
    ctx.lineWidth = 1;
    ctx.strokeRect(a.left, a.top, a.right - a.left, a.bottom - a.top);
    // label: Δv_los (km s^-1), rotated
    const parts = [
      { t: 'Δv', size: 17, dy: 0 },
      { t: 'los', size: 12, dy: 4 },
      { t: ' (km s', size: 17, dy: 0 },
      { t: '\u22121', size: 12, dy: -7 },
      { t: ')', size: 17, dy: 0 }
    ];
    let w = 0;
    parts.forEach(p => { ctx.font = `${p.size}px "${FONT}"`; p.w = ctx.measureText(p.t).width; w += p.w; });
    ctx.translate(a.right + 71, (a.top + a.bottom) / 2);
    ctx.rotate(-Math.PI / 2);
    ctx.fillStyle = '#000';
    ctx.textBaseline = 'alphabetic';
    let px = -w / 2;
    parts.forEach(p => { ctx.font = `${p.size}px "${FONT}"`; ctx.fillText(p.t, px, p.dy); px += p.w; });
    ctx.restore();
  }
};

new Chart(document.getElementById('cbar'), {
  type: 'scatter',
  data: { datasets: [] },
  options: {
    responsive: false, animation: false, devicePixelRatio: 1, events: [],
    layout: { padding: { left: 8.5, top: 14.5, right: 0, bottom: 57.5 } },
    plugins: { legend: { display: false }, tooltip: { enabled: false } },
    scales: {
      x: { display: false, min: 0, max: 1 },
      y: {
        type: 'linear', position: 'right', min: -2, max: 2,
        afterBuildTicks: s => { s.ticks = cbarTicks.map(v => ({ value: v })); },
        afterFit: s => { s.width = 84.5; },
        ticks: { font: { family: FONT, size: 16 }, color: '#000', padding: 2, autoSkip: false,
                 callback: v => v.toFixed(1).replace('-', '\u2212') },
        grid: { drawOnChartArea: false, drawTicks: true, tickLength: 4, color: '#000', lineWidth: 1 },
        border: { display: false }
      }
    }
  },
  plugins: [colorbar]
});
</script>
</body>
</html>
